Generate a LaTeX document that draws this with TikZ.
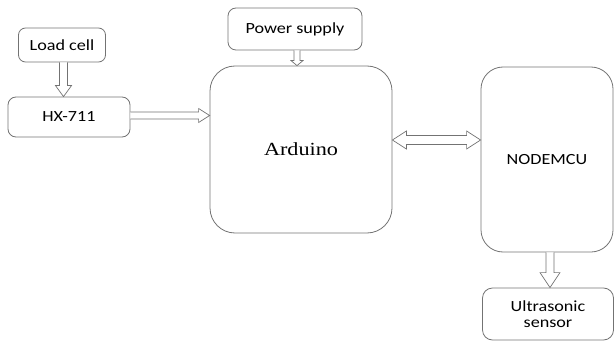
\documentclass[tikz,border=0pt]{standalone}
\usepackage{graphicx}
\usepackage{fontspec}
\setmainfont{Liberation Serif}
\newfontfamily\labelfont{Carlito}
\usetikzlibrary{calc}
\newcommand\wide[1]{\scalebox{1.17}[1]{#1}}
\tikzset{
  boxline/.style={draw=black!55, line width=0.8pt},
  block/.style={boxline, rectangle, align=center, inner sep=0pt,
    font=\labelfont\fontsize{15.5}{16.5}\selectfont},
  arrowline/.style={draw=black!55, line width=0.7pt, fill=white, line join=miter},
}
% horizontal hollow arrow: start point, end point (same y used from start), shaft half, head half, head length
\newcommand\harrow[5]{%
  \draw[arrowline] let \p1=(#1), \p2=(#2) in
    (\x1,\y1+#3) -- (\x2-#5,\y1+#3) -- (\x2-#5,\y1+#4) -- (\x2,\y1) --
    (\x2-#5,\y1-#4) -- (\x2-#5,\y1-#3) -- (\x1,\y1-#3);}
% vertical (downward on page) hollow arrow
\newcommand\varrow[5]{%
  \draw[arrowline] let \p1=(#1), \p2=(#2) in
    (\x1-#3,\y1) -- (\x1-#3,\y2+#5) -- (\x1-#4,\y2+#5) -- (\x1,\y2) --
    (\x1+#4,\y2+#5) -- (\x1+#3,\y2+#5) -- (\x1+#3,\y1);}
\begin{document}
\begin{tikzpicture}[x=1pt,y=-1pt]
\useasboundingbox (0,0) rectangle (615,342);
\node[block, rounded corners=7pt, minimum width=87pt, minimum height=34pt] (load) at (62,45) {\wide{Load cell}};
\node[block, rounded corners=8pt, minimum width=122pt, minimum height=40pt] (hx) at (69,117) {\wide{HX-711}};
\node[block, rounded corners=8pt, minimum width=134pt, minimum height=42pt] (power) at (295,29) {\wide{Power supply}};
\node[block, rounded corners=25pt, minimum width=182pt, minimum height=167pt,
      font=\fontsize{18.5}{20}\selectfont] (ard) at (301,149.5) {\scalebox{1.2}[1]{Arduino}};
\node[block, rounded corners=22pt, minimum width=132pt, minimum height=185pt] (mcu) at (547,159.5) {\wide{NODEMCU}};
\node[block, rounded corners=10pt, minimum width=131pt, minimum height=52pt] (ultra) at (548,314)
  {\wide{Ultrasonic}\\[-0.5pt]\wide{sensor}};
% arrows
\varrow{$(load.south)+(1.5,0)$}{hx.north}{4}{8}{11}
\harrow{$(hx.east)+(0,-1.5)$}{ard.west}{3.5}{7}{11}
\varrow{$(power.south)+(2,0)$}{ard.north}{3}{6}{5}
\varrow{$(mcu.south)+(3,0)$}{ultra.north}{4}{10}{15}
% double arrow between Arduino and NODEMCU
\draw[arrowline] let \p1=($(ard.east)+(0,-9.5)$), \p2=(mcu.west) in
  (\x1,\y1) -- (\x1+14,\y1-9) -- (\x1+14,\y1-4.5) -- (\x2-14,\y1-4.5) -- (\x2-14,\y1-9) --
  (\x2,\y1) -- (\x2-14,\y1+9) -- (\x2-14,\y1+4.5) -- (\x1+14,\y1+4.5) -- (\x1+14,\y1+9) -- cycle;
\end{tikzpicture}
\end{document}
